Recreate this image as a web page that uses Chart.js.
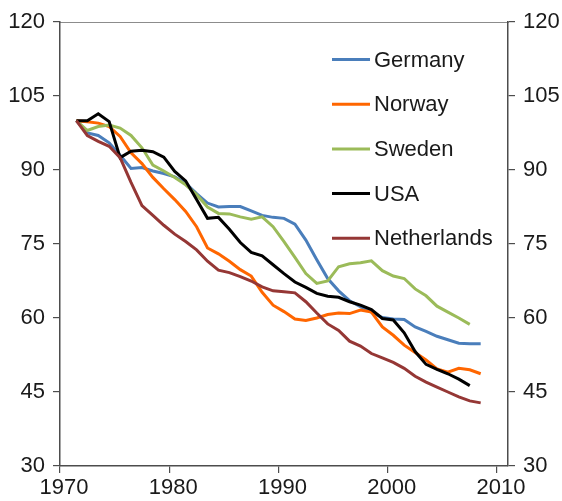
<!DOCTYPE html>
<html>
<head>
<meta charset="utf-8">
<script src="https://cdn.jsdelivr.net/npm/chart.js@4.4.1/dist/chart.umd.min.js"></script>
<style>
  html, body { margin: 0; padding: 0; background: #fff; }
  #wrap { position: relative; width: 562px; height: 501px; }
</style>
</head>
<body>
<div id="wrap"><canvas id="c" width="562" height="501"></canvas></div>
<script>
// Years (annual values, plotted at mid-year)
const years = [1971,1972,1973,1974,1975,1976,1977,1978,1979,1980,
               1981,1982,1983,1984,1985,1986,1987,1988,1989,1990,
               1991,1992,1993,1994,1995,1996,1997,1998,1999,2000,
               2001,2002,2003,2004,2005,2006,2007,2008];

const germany = [100,97.5,97,95.5,93,90.3,90.5,89.8,89.3,88.6,
                 87.3,85.2,83.3,82.5,82.6,82.6,81.7,80.8,80.4,80.2,
                 79,75.8,71.8,68,65.5,63.5,62.3,61.2,60.1,59.8,
                 59.7,58.2,57.3,56.3,55.6,54.9,54.8,54.8];

const norway = [100,99.8,99.5,98.8,96.8,93.5,91.3,88.5,86.2,84,
                81.6,78.5,74.2,73,71.5,69.8,68.5,65.2,62.6,61.3,
                59.8,59.5,60,60.7,61,60.9,61.6,61.2,58.2,56.5,
                54.5,53,51.5,49.7,49,49.8,49.5,48.7];

const sweden = [100,98,98.8,99.1,98.5,97,94.5,91,89.8,88.5,
                87,85,82.5,81.2,81.1,80.5,80,80.5,78.5,75.5,
                72.3,69,67,67.5,70.4,71,71.2,71.6,69.6,68.5,
                68,65.9,64.5,62.4,61.2,60,58.7];

const usa = [100,100,101.4,99.8,92.5,93.8,94,93.7,92.6,89.7,
             87.8,84,80.2,80.4,78,75.3,73.3,72.6,70.8,69,
             67.3,66.2,65,64.4,64.2,63.3,62.6,61.7,59.9,59.6,
             57,53.2,50.6,49.6,48.7,47.6,46.3];

const netherlands = [100,97,95.8,94.8,92.5,87.5,82.8,80.8,78.8,77,
                     75.5,73.8,71.5,69.7,69.2,68.4,67.5,66.3,65.5,65.3,
                     65.1,63.3,61,58.8,57.5,55.3,54.3,52.8,51.9,51,
                     49.8,48.2,47,46,45,44,43.2,42.8];

const seriesNames = ['Germany','Norway','Sweden','USA','Netherlands'];
const seriesValues = [germany, norway, sweden, usa, netherlands];
const seriesColors = ['#4a7ebb','#ff6600','#9bbb59','#000000','#953735'];

const yTicks = [30,45,60,75,90,105,120];
const xTicks = [1970,1980,1990,2000,2010];

const FONT = "'Liberation Sans', Arial, sans-serif";
const AXIS = '#4d4d4d';
const TEXT = '#1a1a1a';

function toPoints(vals) {
  return vals.map((v, i) => ({ x: years[i] + 0.5, y: v }));
}

const datasets = seriesNames.map((name, i) => ({
  label: name,
  data: toPoints(seriesValues[i]),
  borderColor: seriesColors[i],
  backgroundColor: seriesColors[i],
  borderWidth: 3,
  pointRadius: 0,
  tension: 0,
  fill: false,
  order: seriesNames.length - i,
  yAxisID: 'y'
}));

const legendPlugin = {
  id: 'customLegend',
  afterDraw(chart) {
    const ctx = chart.ctx;
    ctx.save();
    const x0 = 332, x1 = 370, tx = 374, y0 = 59.5, dy = 44.7;
    seriesNames.forEach((name, i) => {
      const y = y0 + i * dy;
      ctx.strokeStyle = seriesColors[i];
      ctx.lineWidth = 3;
      ctx.beginPath();
      ctx.moveTo(x0, y);
      ctx.lineTo(x1, y);
      ctx.stroke();
      ctx.fillStyle = TEXT;
      ctx.font = '22px ' + FONT;
      ctx.textBaseline = 'middle';
      ctx.textAlign = 'left';
      ctx.fillText(name, tx, y + 1);
    });
    ctx.restore();
  }
};

const yAxisCommon = {
  type: 'linear',
  min: yTicks[0],
  max: yTicks[yTicks.length - 1],
  ticks: {
    stepSize: 15,
    color: TEXT,
    font: { family: FONT, size: 22 },
    padding: 8,
    callback: v => String(v)
  },
  grid: { display: true, drawOnChartArea: false, drawTicks: true, tickLength: 7, color: AXIS, lineWidth: 1.2 },
  border: { display: true, color: AXIS, width: 1.5 }
};

new Chart(document.getElementById('c'), {
  type: 'line',
  data: { datasets },
  plugins: [legendPlugin],
  options: {
    responsive: false,
    animation: false,
    devicePixelRatio: 1,
    layout: { padding: { top: 22, left: 0, right: 0, bottom: 0 } },
    plugins: { legend: { display: false }, tooltip: { enabled: false } },
    scales: {
      x: {
        type: 'linear',
        position: 'bottom',
        min: xTicks[0],
        max: 2011,
        ticks: {
          stepSize: 10,
          includeBounds: false,
          color: TEXT,
          font: { family: FONT, size: 22 },
          padding: 2,
          labelOffset: 4,
          maxRotation: 0,
          callback: v => String(v)
        },
        grid: { display: true, drawOnChartArea: false, drawTicks: true, tickLength: 7, color: AXIS, lineWidth: 1.2 },
        border: { display: true, color: AXIS, width: 1.5 },
        afterFit: s => { s.height = 35; }
      },
      xTop: {
        type: 'linear',
        position: 'top',
        min: xTicks[0],
        max: 2011,
        ticks: { display: false },
        grid: { display: false, drawTicks: false },
        border: { display: true, color: '#8c8c8c', width: 1 },
        afterFit: s => { s.height = 0; }
      },
      y: Object.assign({}, yAxisCommon, {
        position: 'left',
        afterFit: s => { s.width = 60; }
      }),
      y2: Object.assign({}, yAxisCommon, {
        position: 'right',
        afterFit: s => { s.width = 54; }
      })
    }
  }
});
</script>
</body>
</html>
